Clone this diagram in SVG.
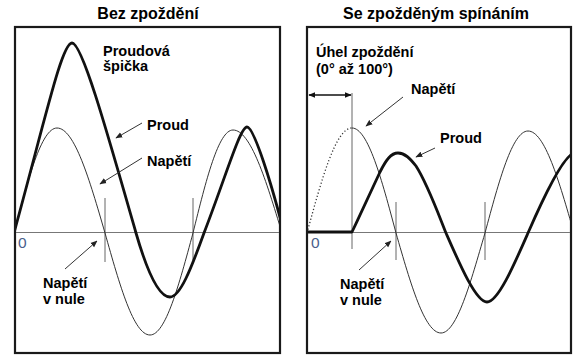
<svg xmlns="http://www.w3.org/2000/svg" width="573" height="356" viewBox="0 0 573 356">
<style>
.title{font-family:"Liberation Sans",Arial,sans-serif;font-weight:bold;font-size:16px;fill:#000}
.lbl{font-family:"Liberation Sans",Arial,sans-serif;font-weight:bold;font-size:14.5px;fill:#000}
.zero{font-family:"Liberation Sans",Arial,sans-serif;font-size:15.5px;fill:#4a5f8c}
.box{fill:#fff;stroke:#1a1a1a;stroke-width:2.2}
.axis{stroke:#777;stroke-width:1;fill:none}
.tick{stroke:#666;stroke-width:1;fill:none}
.volt{stroke:#333;stroke-width:1;fill:none}
.dot{stroke:#333;stroke-width:1.3;fill:none;stroke-dasharray:1.2 2.2}
.cur{stroke:#111;stroke-width:2.8;fill:none;stroke-linejoin:round}
.ptr{stroke:#333;stroke-width:1;fill:none;marker-end:url(#ah)}
.dim{stroke:#111;stroke-width:1.5;fill:none;marker-start:url(#dh);marker-end:url(#dh)}
</style>
<defs>
<marker id="ah" viewBox="0 0 10 10" refX="9" refY="5" markerWidth="7" markerHeight="7" markerUnits="userSpaceOnUse" orient="auto">
<path d="M0,1 L10,5 L0,9 z" fill="#222"/>
</marker>
<marker id="dh" viewBox="0 0 10 10" refX="9" refY="5" markerWidth="7" markerHeight="7" markerUnits="userSpaceOnUse" orient="auto-start-reverse">
<path d="M0,1 L10,5 L0,9 z" fill="#111"/>
</marker>
<clipPath id="cl"><rect x="16" y="28" width="263" height="324"/></clipPath>
<clipPath id="cr"><rect x="308" y="28" width="262" height="324"/></clipPath>
</defs>

<text class="title" x="148" y="19" text-anchor="middle">Bez zpoždění</text>
<text class="title" x="436" y="19" text-anchor="middle">Se zpožděným spínáním</text>

<g id="panel-left">
<rect class="box" x="15" y="27" width="265" height="326"/>
<g clip-path="url(#cl)">
<line class="axis" x1="15" y1="232.5" x2="280" y2="232.5"/>
<line class="tick" x1="105" y1="198" x2="105" y2="262"/>
<line class="tick" x1="193" y1="198" x2="193" y2="260"/>
<path class="volt" d="M14,233 C28,179.2 41.4,128 57,128 C74.4,128 89.4,179.2 105,233 C119.7,285.2 133.7,335 150,335 C165.6,335 179,284.8 193,233 C206,180.2 218.5,130 233,130 C250.7,130 266,180.3 282,233"/>
<path class="cur" d="M14,233 C47,112 62,43 72,43 C82,43 106,128 136,233 C149,278 160,297 170,297 C180,297 191,269 204,233 C226,176 240,127 247,127 C254,127 272,185 284,233"/>
</g>
<text class="zero" x="18" y="248">0</text>
</g>

<g id="panel-right">
<rect class="box" x="307" y="27" width="264" height="326"/>
<g clip-path="url(#cr)">
<line class="axis" x1="307" y1="232.5" x2="571" y2="232.5"/>
<line class="tick" x1="352" y1="93" x2="352" y2="249"/>
<line class="tick" x1="396" y1="202" x2="396" y2="260"/>
<line class="tick" x1="485" y1="202" x2="485" y2="260"/>
<path class="dot" d="M307,233 C321.7,179.2 335.7,128 352,128"/>
<path class="volt" d="M352,128 C367.9,128 381.7,179.2 396,233 C410.7,284.2 424.7,333 441,333 C456.9,333 470.7,281.8 485,233 C499,180.8 512.4,131 528,131 C544.7,131 559,180.8 574,233"/>
<path class="cur" d="M306,232 L352,232 C362,211 372,189 380,172 C386,160 391,153 398,153 C405,153 410,158 416,166 C427,183 438,213 446,233 C460,265 476,302 487,302 C498,302 514,265 528,233 C545,194 565,153 575,153"/>
</g>
<text class="zero" x="311" y="248">0</text>
</g>

<g id="connectors">
<line class="ptr" x1="142" y1="123" x2="116" y2="138"/>
<line class="ptr" x1="142" y1="158" x2="100" y2="184"/>
<line class="ptr" x1="65" y1="269" x2="97" y2="241"/>
<line class="dim" x1="309" y1="95" x2="351" y2="95"/>
<line class="ptr" x1="403" y1="97" x2="366" y2="126"/>
<line class="ptr" x1="435" y1="148" x2="416" y2="157"/>
<line class="ptr" x1="359" y1="270" x2="391" y2="241"/>
</g>

<g id="labels">
<text class="lbl" x="103" y="56">Proudová</text>
<text class="lbl" x="103" y="71">špička</text>
<text class="lbl" x="147" y="130">Proud</text>
<text class="lbl" x="147" y="166">Napětí</text>
<text class="lbl" x="43" y="288">Napětí</text>
<text class="lbl" x="43" y="304">v nule</text>
<text class="lbl" x="316" y="57">Úhel zpoždění</text>
<text class="lbl" x="316" y="74">(0° až 100°)</text>
<text class="lbl" x="411" y="94">Napětí</text>
<text class="lbl" x="440" y="143">Proud</text>
<text class="lbl" x="340" y="289">Napětí</text>
<text class="lbl" x="340" y="305">v nule</text>
</g>
</svg>
